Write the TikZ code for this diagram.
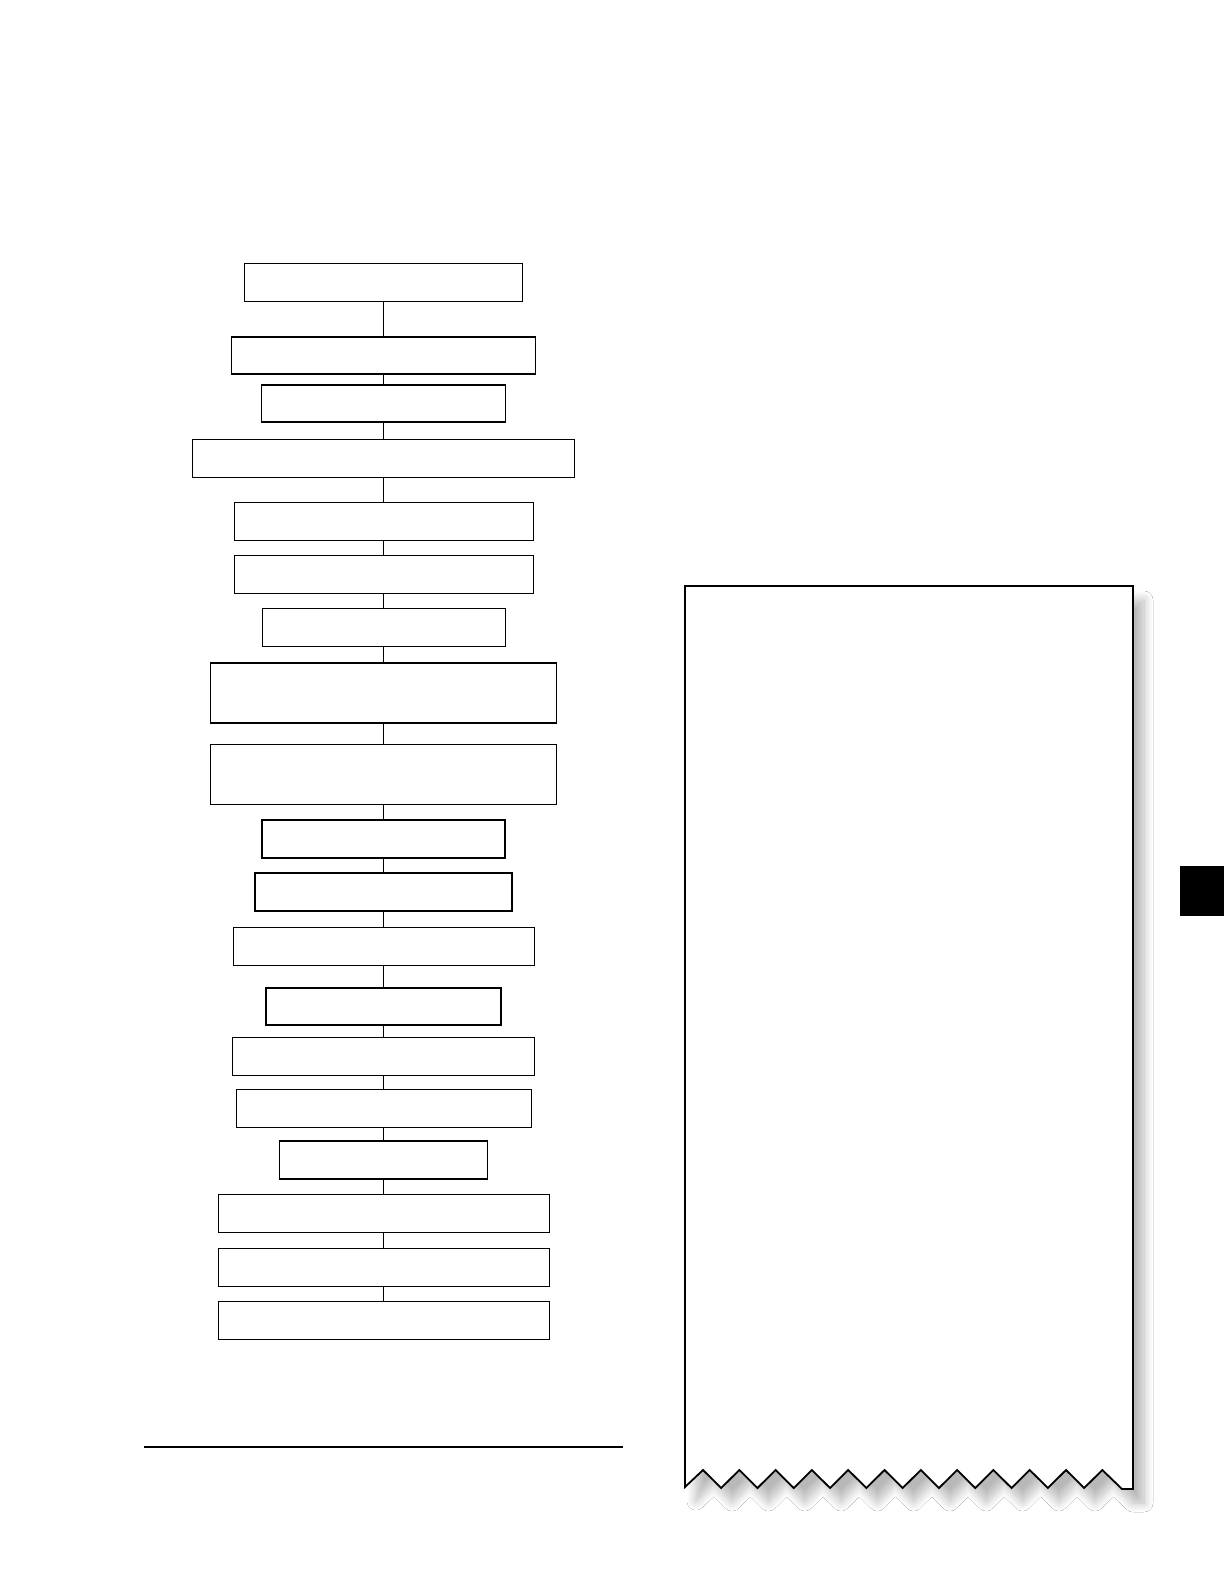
\documentclass[tikz,border=0pt]{standalone}
\usetikzlibrary{shadows.blur}
\begin{document}
\begin{tikzpicture}[x=1pt,y=-1pt,
  box/.style={draw=black, line width=1pt, rectangle, fill=white, inner sep=0pt, outer sep=0pt},
  heavy/.style={box, line width=1.9pt},
  link/.style={draw=black, line width=1pt},
  panel/.style={draw=black, line width=1.8pt, fill=white, line join=miter,
    blur shadow={shadow xshift=11pt, shadow yshift=-14pt, shadow blur radius=9pt, shadow blur steps=14, shadow opacity=28}}]
\useasboundingbox (0,0) rectangle (1224,1584);
\fill[white] (0,0) rectangle (1224,1584);

\node[box,   minimum width=278pt, minimum height=38pt] (b1)  at (383.5,282) {};
\node[heavy, minimum width=304pt, minimum height=37pt] (b2)  at (383.5,355.5) {};
\node[heavy, minimum width=244pt, minimum height=37pt] (b3)  at (383.5,403.5) {};
\node[box,   minimum width=382pt, minimum height=38pt] (b4)  at (383.5,458) {};
\node[box,   minimum width=299pt, minimum height=38pt] (b5)  at (383.5,521) {};
\node[box,   minimum width=299pt, minimum height=38pt] (b6)  at (383.5,574) {};
\node[box,   minimum width=243pt, minimum height=38pt] (b7)  at (383.5,627) {};
\node[heavy, minimum width=346pt, minimum height=60pt] (b8)  at (383.5,693) {};
\node[box,   minimum width=346pt, minimum height=60pt] (b9)  at (383.5,774) {};
\node[heavy, minimum width=243pt, minimum height=38pt] (b10) at (383.5,839) {};
\node[heavy, minimum width=257pt, minimum height=38pt] (b11) at (383.5,892) {};
\node[box,   minimum width=301pt, minimum height=38pt] (b12) at (383.5,946) {};
\node[heavy, minimum width=235pt, minimum height=37pt] (b13) at (383.5,1006.5) {};
\node[box,   minimum width=302pt, minimum height=38pt] (b14) at (383.5,1056) {};
\node[box,   minimum width=295pt, minimum height=38pt] (b15) at (383.5,1108) {};
\node[heavy, minimum width=208pt, minimum height=38pt] (b16) at (383.5,1160) {};
\node[box,   minimum width=331pt, minimum height=38pt] (b17) at (383.5,1213) {};
\node[box,   minimum width=331pt, minimum height=38pt] (b18) at (383.5,1267) {};
\node[box,   minimum width=331pt, minimum height=38pt] (b19) at (383.5,1320) {};

\foreach \a/\b in {b1/b2,b2/b3,b3/b4,b4/b5,b5/b6,b6/b7,b7/b8,b8/b9,b9/b10,b10/b11,b11/b12,b12/b13,b13/b14,b14/b15,b15/b16,b16/b17,b17/b18,b18/b19}
  \draw[link] (\a.south) -- (\b.north);

% horizontal rule
\coordinate (r1) at (144,1447);
\coordinate (r2) at (623,1447);
\draw[line width=2.4pt] (r1) -- (r2);

% torn paper panel
\path[panel] (685,586) -- (685,1487)
  -- (703,1470) -- (721.15,1488)
  -- (739.3,1470) -- (757.45,1488)
  -- (775.6,1470) -- (793.75,1488)
  -- (811.9,1470) -- (830.05,1488)
  -- (848.2,1470) -- (866.35,1488)
  -- (884.5,1470) -- (902.65,1488)
  -- (920.8,1470) -- (938.95,1488)
  -- (957.1,1470) -- (975.25,1488)
  -- (993.4,1470) -- (1011.55,1488)
  -- (1029.7,1470) -- (1047.85,1488)
  -- (1066,1470) -- (1084.15,1488)
  -- (1102.3,1470) -- (1122,1489) -- (1133,1489) -- (1133,586) -- cycle;

% black tab
\fill[black] (1180,866) rectangle (1224,916);
\end{tikzpicture}
\end{document}
